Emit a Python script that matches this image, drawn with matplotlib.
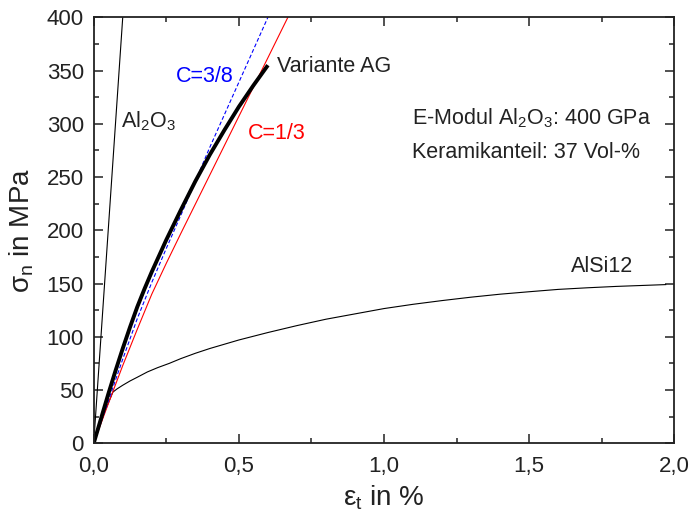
import matplotlib
matplotlib.use("Agg")
import matplotlib.pyplot as plt
from matplotlib.ticker import FixedLocator, FixedFormatter, MultipleLocator

plt.rcParams["font.family"] = ["Liberation Sans", "DejaVu Sans"]
plt.rcParams["mathtext.fontset"] = "custom"
plt.rcParams["mathtext.rm"] = "Liberation Sans"
plt.rcParams["mathtext.it"] = "Liberation Sans"
plt.rcParams["mathtext.default"] = "regular"

# --- data ---
al2o3_eps = [0.0, 0.1]
al2o3_sig = [0.0, 400.0]

alsi_eps = [0.0, 0.02, 0.04, 0.066, 0.08, 0.10, 0.125, 0.15, 0.185, 0.22, 0.26,
            0.3, 0.35, 0.4, 0.5, 0.6, 0.7, 0.8, 0.9, 1.0, 1.1, 1.2, 1.3, 1.4,
            1.5, 1.6, 1.7, 1.8, 1.9, 1.97]
alsi_sig = [0.0, 16, 31, 48, 51, 54.5, 58.5, 62, 67, 71, 75,
            79.5, 84.5, 89, 97, 104, 110.5, 116.5, 121.5, 126.5, 130.5, 134,
            137.2, 140, 142.3, 144.5, 146, 147.3, 148.3, 149]

ag_eps = [0.0, 0.025, 0.05, 0.075, 0.10, 0.125, 0.15, 0.175, 0.20, 0.25,
          0.30, 0.35, 0.40, 0.45, 0.50, 0.55, 0.60]
ag_sig = [0.0, 23, 46, 68, 89, 109, 128, 145, 161, 191,
          219, 246, 271, 294, 316, 336, 355]

c38_eps = [0.0, 0.05, 0.10, 0.15, 0.20, 0.25, 0.30, 0.35, 0.40, 0.50, 0.60, 0.61]
c38_sig = [0.0, 39.5, 79, 117, 151, 183, 214, 246, 278, 339, 400, 406]

c13_eps = [0.0, 0.05, 0.10, 0.15, 0.20, 0.25, 0.30, 0.40, 0.50, 0.60, 0.667, 0.68]
c13_sig = [0.0, 37, 73, 107, 140, 169, 197, 252, 307, 362, 399, 406]

x_ticks = [0.0, 0.5, 1.0, 1.5, 2.0]
x_ticklabels = ["0,0", "0,5", "1,0", "1,5", "2,0"]
y_ticks = [0, 50, 100, 150, 200, 250, 300, 350, 400]

fig = plt.figure(figsize=(6.9, 5.22), dpi=100)
ax = fig.add_axes([0.1358, 0.1508, 0.9774 - 0.1358, 0.9669 - 0.1508])

ax.plot(al2o3_eps, al2o3_sig, color="black", lw=0.8)
ax.plot(alsi_eps, alsi_sig, color="black", lw=0.8)
ax.plot(c13_eps, c13_sig, color="#ff0000", lw=0.8)
ax.plot(c38_eps, c38_sig, color="#0000ff", lw=0.8, dashes=(3.5, 2))
ax.plot(ag_eps, ag_sig, color="black", lw=2.8, solid_capstyle="butt")

ax.set_xlim(0, 2.0)
ax.set_ylim(0, 400)
ax.xaxis.set_major_locator(FixedLocator(x_ticks))
ax.xaxis.set_major_formatter(FixedFormatter(x_ticklabels))
ax.xaxis.set_minor_locator(MultipleLocator(0.25))
ax.yaxis.set_major_locator(FixedLocator(y_ticks))
ax.yaxis.set_minor_locator(MultipleLocator(25))

ax.tick_params(which="both", direction="in", top=True, right=True, width=1.1,
               colors="#222222", labelcolor="#222222")
ax.tick_params(which="major", length=6.5, labelsize=16)
ax.tick_params(which="minor", length=3.5)
ax.tick_params(axis="x", which="major", pad=9)
ax.tick_params(axis="y", which="major", pad=7)
for sp in ax.spines.values():
    sp.set_linewidth(1.3)
    sp.set_color("#222222")

ax.set_xlabel("ε$_t$ in %", fontsize=20, labelpad=5, color="#222222")
ax.set_ylabel("σ$_n$ in MPa", fontsize=20, labelpad=8, color="#222222")

fs = 15.5
ax.text(0.093, 297, "Al$_2$O$_3$", fontsize=fs, color="#222222", va="baseline")
ax.text(0.283, 339.5, "C=3/8", fontsize=fs, color="#0000ff", va="baseline")
ax.text(0.630, 349, "Variante AG", fontsize=fs, color="#222222", va="baseline")
ax.text(0.532, 285.6, "C=1/3", fontsize=fs, color="#ff0000", va="baseline")
ax.text(1.095, 299, "E-Modul Al$_2$O$_3$: 400 GPa", fontsize=fs, color="#222222",
        va="baseline")
ax.text(1.095, 267.6, "Keramikanteil: 37 Vol-%", fontsize=fs, color="#222222",
        va="baseline")
ax.text(1.643, 161, "AlSi12", fontsize=fs, color="#222222", va="baseline")

fig.savefig("out.png", dpi=100)
